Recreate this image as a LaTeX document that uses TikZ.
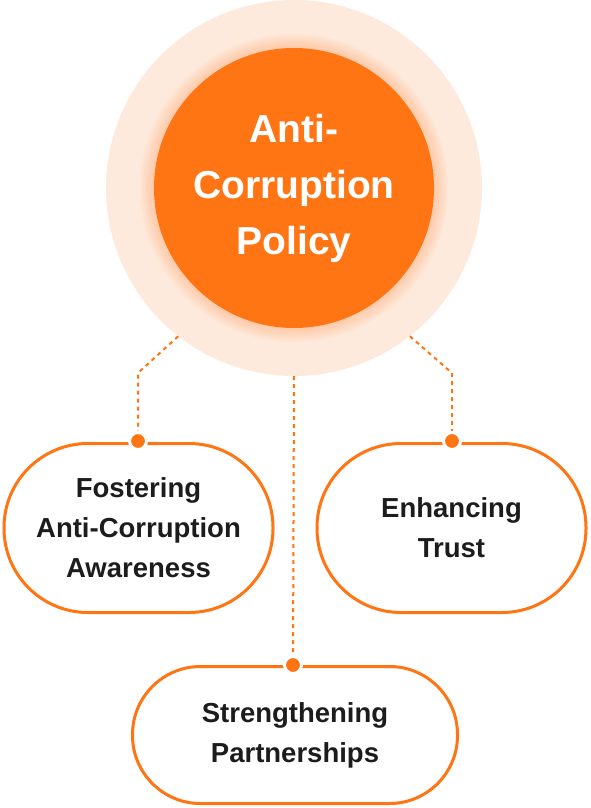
\documentclass[tikz,border=0pt]{standalone}
\usepackage{fontspec}
\setmainfont{Liberation Sans}
\usetikzlibrary{positioning, calc}
\definecolor{brandorange}{HTML}{FF7413}
\definecolor{halopeach}{HTML}{FEEADC}
\definecolor{inkdark}{HTML}{1C1C1C}

\begin{document}
\begin{tikzpicture}[
    x=1pt, y=-1pt,
    halo_style/.style={circle, fill=halopeach, minimum size=376pt, inner sep=0pt},
    core_style/.style={circle, fill=brandorange, minimum size=280pt, inner sep=0pt, text=white, align=center, font=\bfseries\fontsize{39}{56}\selectfont},
    goal/.style={rectangle, draw=brandorange, line width=3pt, fill=white, align=center, text=inkdark, font=\bfseries\fontsize{27.5}{40}\selectfont},
    goal_big/.style={goal, minimum width=269pt, minimum height=169pt, rounded corners=84pt},
    goal_wide/.style={goal, minimum width=325pt, minimum height=137pt, rounded corners=68pt},
    dot/.style={circle, fill=brandorange, draw=white, line width=3pt, minimum size=17pt, inner sep=0pt},
    link/.style={brandorange, line width=2pt, dash pattern=on 4pt off 4pt}
]
    \useasboundingbox (0,0) rectangle (590,808);

    % --- CENTRAL POLICY ---
    \node (halo) [halo_style] at (294,188) {};
    \foreach \i in {1,...,8}
        \fill [brandorange, opacity=0.03] (halo.center) circle (140+1.8*\i);
    \node (core) [core_style] at (294,188) {Anti-\\Corruption\\Policy};

    % --- BEND POINTS ---
    \coordinate (bendL) at (138,373);
    \coordinate (bendR) at (452,373);

    % --- GOALS ---
    \node (foster) [goal_big] at (138.5,528) {Fostering\\Anti-Corruption\\Awareness};
    \node (trust) [goal_big] at (451.5,528) {Enhancing\\Trust};
    \node (partner) [goal_wide] at (295,735) {Strengthening\\Partnerships};

    % --- DOTTED LINKS ---
    \draw [link] (halo.232) -- (bendL) -- (138,441);
    \draw [link] (halo.308) -- (bendR) -- (452,441);
    \draw [link] (halo.south) -- (293,665);

    % --- CONNECTOR DOTS ---
    \node (dotL) [dot] at (138,441) {};
    \node (dotR) [dot] at (452,441) {};
    \node (dotB) [dot] at (293,665) {};

\end{tikzpicture}
\end{document}
